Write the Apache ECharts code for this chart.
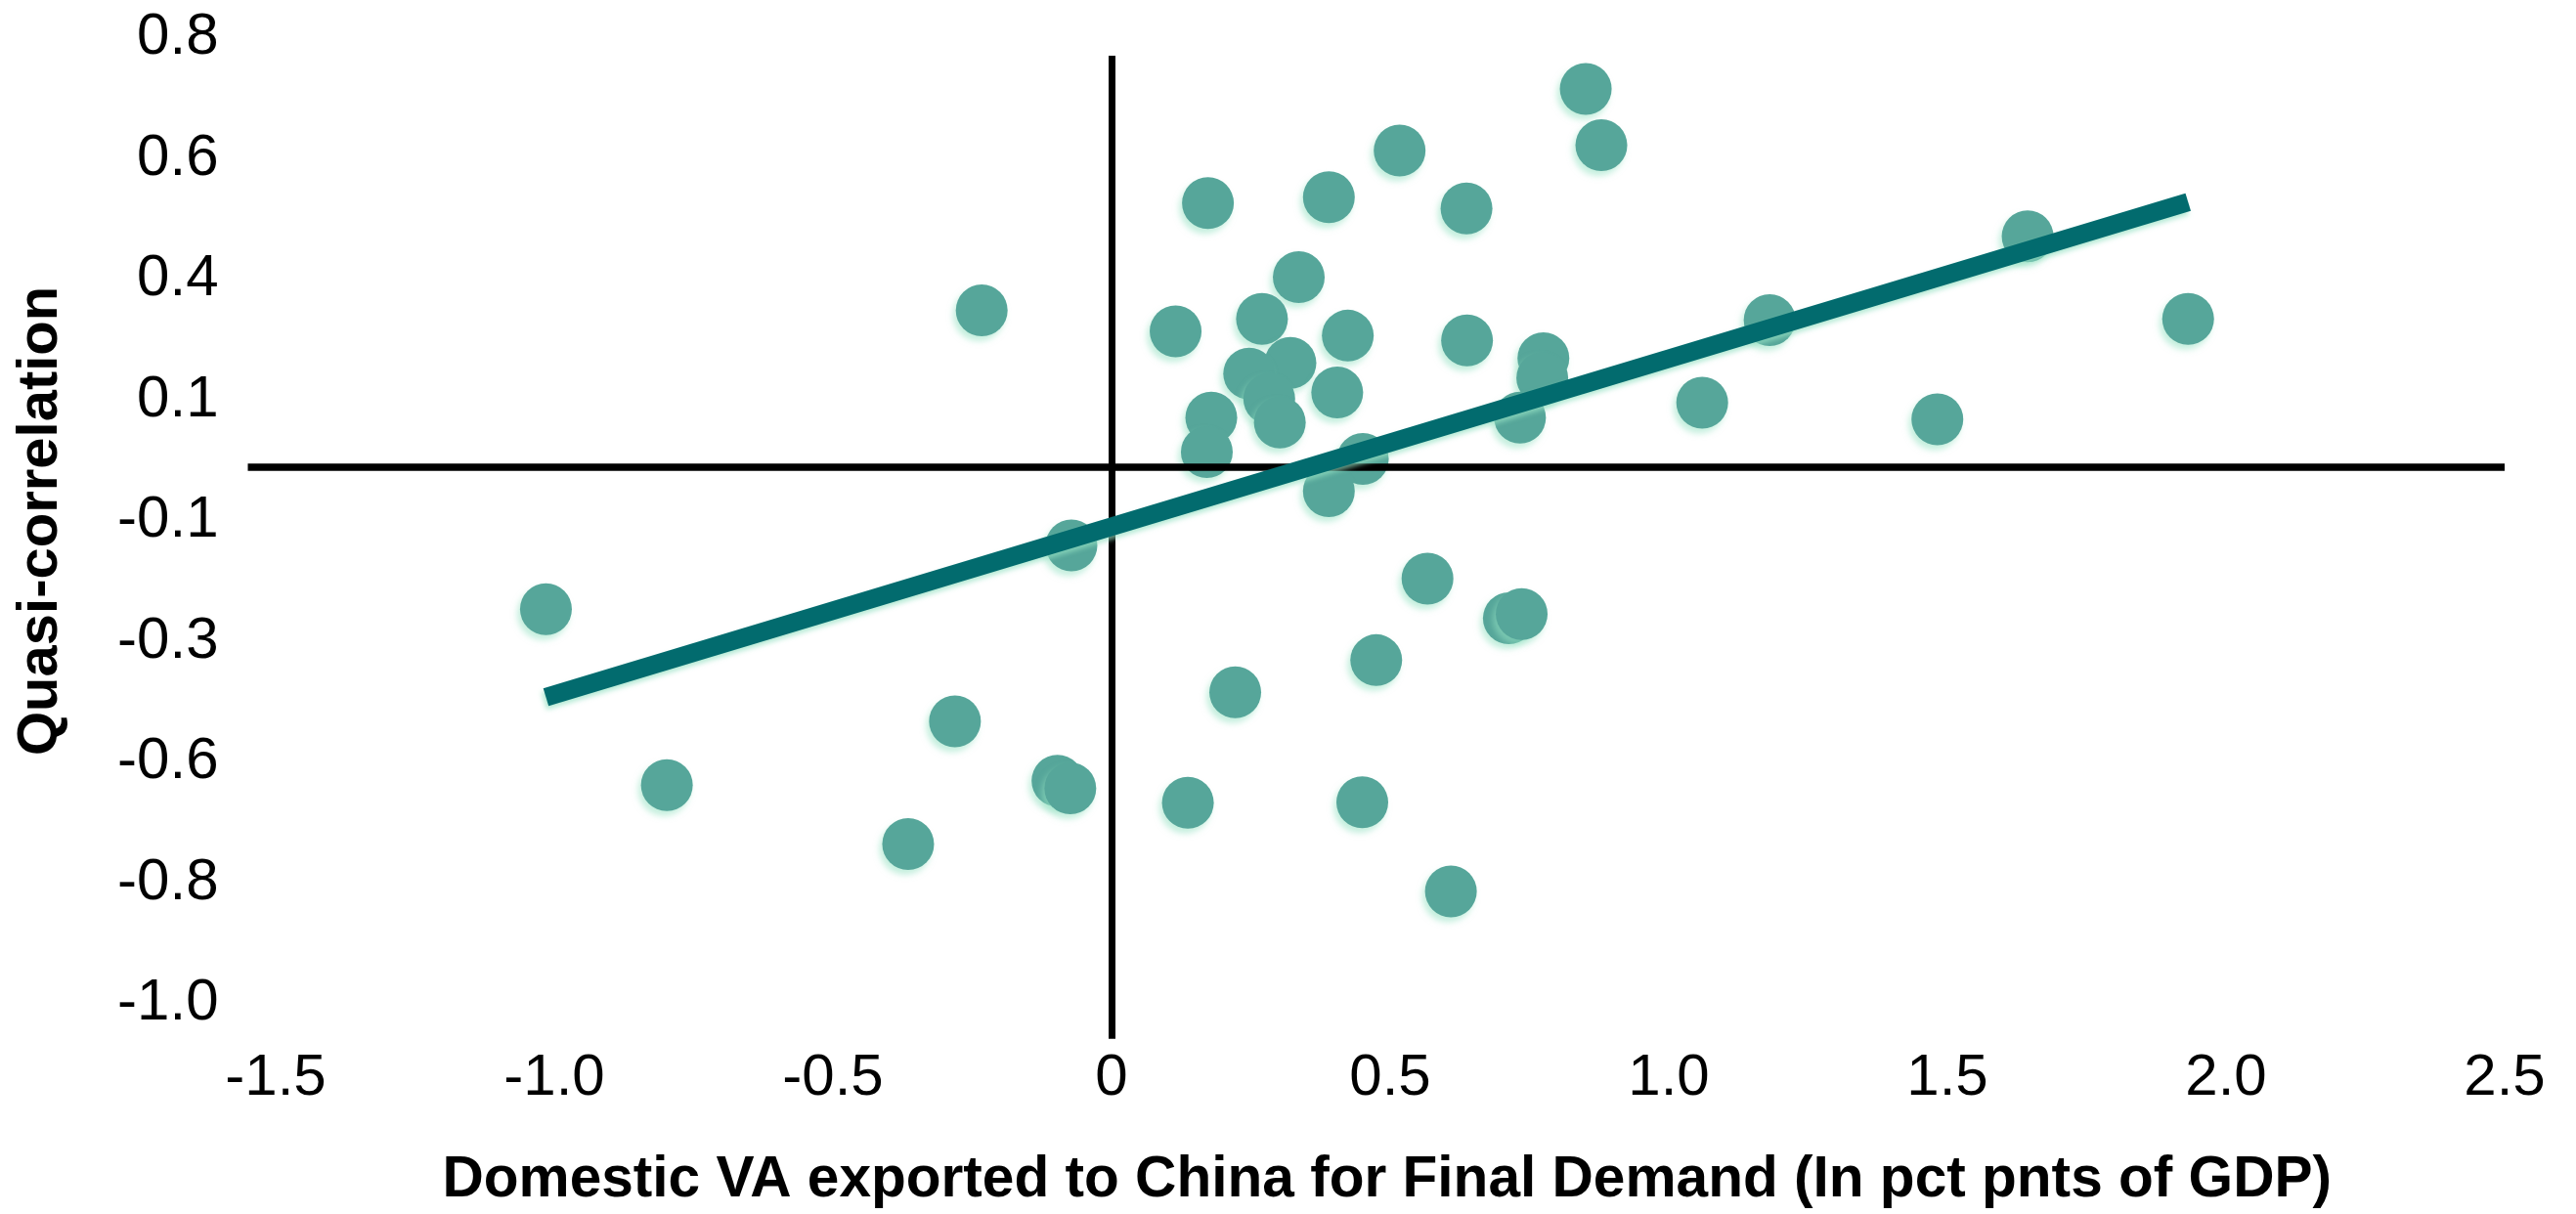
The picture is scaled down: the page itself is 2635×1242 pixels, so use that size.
<!DOCTYPE html>
<html>
<head>
<meta charset="utf-8">
<script src="https://cdn.jsdelivr.net/npm/echarts@6/dist/echarts.min.js"></script>
<style>
  html, body { margin: 0; padding: 0; background: #ffffff; }
  #chart { width: 2635px; height: 1242px; }
</style>
</head>
<body>
<div id="chart"></div>
<script>
// Scatter values: x = Domestic VA exported to China for final demand (pct pnts of GDP), y = quasi-correlation
const xValues = [0.851, 0.879, 0.517, 0.390, 0.173, 0.637, 1.644, -0.233, 0.336, 0.270,
                 1.181, 1.932, 0.115, 0.424, 0.638, 0.321, 0.247, 0.775, 0.773, 0.405,
                 0.283, 1.060, 0.179, 0.302, 0.733, 1.482, 0.171, 0.451, 0.390, -0.072,
                 0.567, -1.015, 0.713, 0.736, 0.475, 0.222, -0.281, -0.798, -0.097, -0.074,
                 0.137, 0.450, -0.365, 0.609];
const yValues = [0.705, 0.600, 0.590, 0.503, 0.492, 0.482, 0.430, 0.292, 0.354, 0.276,
                 0.274, 0.276, 0.253, 0.245, 0.236, 0.194, 0.174, 0.203, 0.166, 0.139,
                 0.127, 0.120, 0.092, 0.083, 0.092, 0.089, 0.028, 0.015, -0.045, -0.146,
                 -0.208, -0.265, -0.282, -0.274, -0.360, -0.420, -0.474, -0.593, -0.585, -0.599,
                 -0.626, -0.625, -0.703, -0.791];

// Fitted trend line end points
const trendX = [-1.015, 1.932];
const trendY = [-0.429, 0.494];

// Axis ticks and their printed labels
const xTickValues = [-1.5, -1.0, -0.5, 0, 0.5, 1.0, 1.5, 2.0, 2.5];
const xTickLabels = ['-1.5', '-1.0', '-0.5', '0', '0.5', '1.0', '1.5', '2.0', '2.5'];
const yTickValues = [0.8, 0.575, 0.35, 0.125, -0.1, -0.325, -0.55, -0.775, -1.0];
const yTickLabels = ['0.8', '0.6', '0.4', '0.1', '-0.1', '-0.3', '-0.6', '-0.8', '-1.0'];

// Extents of the drawn axis cross lines
const xRange = [-1.55, 2.5];
const yRange = [-1.07, 0.8];
const zeroLineYExtent = [0.767, -1.066];

const xTitle = 'Domestic VA exported to China for Final Demand (In pct pnts of GDP)';
const yTitle = 'Quasi-correlation';

const FONT = '"Liberation Sans", Arial, Helvetica, sans-serif';

const points = xValues.map((x, i) => [x, yValues[i]]);
const trend = trendX.map((x, i) => [x, trendY[i]]);

function labelFor(values, labels) {
  return function (v) {
    for (let i = 0; i < values.length; i++) {
      if (Math.abs(values[i] - v) < 1e-6) return labels[i];
    }
    return '';
  };
}

const chart = echarts.init(document.getElementById('chart'), null, { renderer: 'canvas' });

chart.setOption({
  animation: false,
  backgroundColor: '#ffffff',
  grid: { left: 253.5, right: 73, top: 38.8, bottom: 176.6, containLabel: false },
  xAxis: {
    type: 'value',
    min: xRange[0],
    max: xRange[1],
    axisLine: { show: false },
    axisTick: { show: false },
    splitLine: { show: false },
    axisLabel: {
      customValues: xTickValues,
      formatter: labelFor(xTickValues, xTickLabels),
      fontFamily: FONT,
      fontSize: 60,
      color: '#000000',
      margin: 8
    },
    name: xTitle,
    nameLocation: 'middle',
    nameGap: 113,
    nameTextStyle: { fontFamily: FONT, fontSize: 58.6, fontWeight: 'bold', color: '#000000', padding: [0, 0, 0, 22] }
  },
  yAxis: {
    type: 'value',
    min: yRange[0],
    max: yRange[1],
    axisLine: { show: false },
    axisTick: { show: false },
    splitLine: { show: false },
    axisLabel: {
      customValues: yTickValues,
      formatter: labelFor(yTickValues, yTickLabels),
      fontFamily: FONT,
      fontSize: 60,
      color: '#000000',
      margin: 30
    },
    name: yTitle,
    nameLocation: 'middle',
    nameGap: 183,
    nameTextStyle: { fontFamily: FONT, fontSize: 58, fontWeight: 'bold', color: '#000000', padding: [0, 0, 0, 38] }
  },
  series: [
    {
      type: 'scatter',
      data: points,
      symbol: 'circle',
      symbolSize: 53,
      z: 2,
      itemStyle: {
        color: '#56A69A',
        opacity: 1,
        shadowColor: 'rgba(150, 225, 195, 0.55)',
        shadowBlur: 6,
        shadowOffsetX: -3,
        shadowOffsetY: 5
      },
      markLine: {
        silent: true,
        symbol: ['none', 'none'],
        label: { show: false },
        lineStyle: { color: '#000000', type: 'solid' },
        data: [
          [{ coord: [0, zeroLineYExtent[0]], lineStyle: { width: 7, color: '#000000', type: 'solid' } },
           { coord: [0, zeroLineYExtent[1]] }],
          [{ coord: [xRange[0], 0], lineStyle: { width: 7.5, color: '#000000', type: 'solid' } },
           { coord: [xRange[1], 0] }]
        ]
      }
    },
    {
      type: 'line',
      data: trend,
      symbol: 'none',
      z: 5,
      silent: true,
      lineStyle: {
        color: '#026B6E',
        width: 19,
        cap: 'butt',
        shadowColor: 'rgba(150, 225, 195, 0.7)',
        shadowBlur: 5,
        shadowOffsetX: -2,
        shadowOffsetY: 4
      }
    }
  ]
});
</script>
</body>
</html>
